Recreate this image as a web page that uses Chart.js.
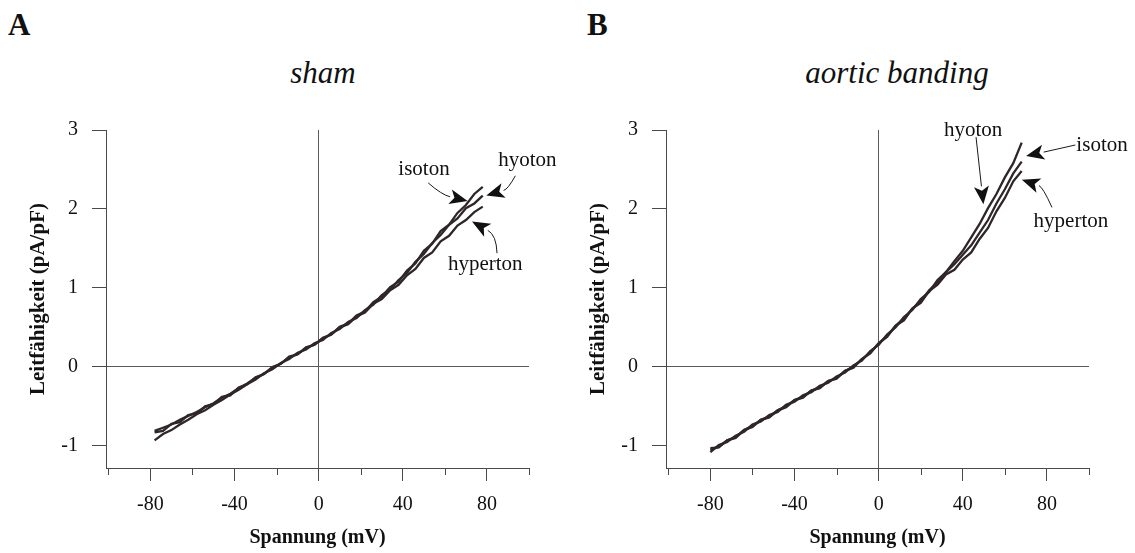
<!DOCTYPE html>
<html>
<head>
<meta charset="utf-8">
<script src="https://cdn.jsdelivr.net/npm/chart.js@4.4.1/dist/chart.umd.min.js"></script>
<style>
  html, body { margin: 0; padding: 0; background: #fff; }
  #wrap { position: relative; width: 1135px; height: 553px; overflow: hidden; background: #fff; }
  canvas { position: absolute; top: 0; }
  .lbl { position: absolute; font-family: 'Liberation Serif', 'Times New Roman', serif; color: #111; line-height: 1; white-space: nowrap; }
  .panel { font-weight: bold; font-size: 31px; }
  .ttl { font-style: italic; font-size: 31px; text-align: center; width: 300px; }
</style>
</head>
<body>
<div id="wrap">
  <div class="lbl panel" style="left:8px; top:9px;">A</div>
  <div class="lbl panel" style="left:587px; top:9px;">B</div>
  <div class="lbl ttl" style="left:173px; top:57px;">sham</div>
  <div class="lbl ttl" style="left:747px; top:57px;">aortic banding</div>
  <canvas id="cA" width="560" height="553" style="left:0px;"></canvas>
  <canvas id="cB" width="575" height="553" style="left:560px;"></canvas>
</div>
<script>
// ---------- data ----------
const voltsA = [-78,-74,-70,-66,-62,-58,-54,-50,-46,-42,-38,-34,-30,-26,-22,-18,-14,-10,-6,-2,2,6,10,14,18,22,26,30,34,38,42,46,50,54,58,62,66,70,74,78];
const isotonA = [-0.83,-0.81,-0.72,-0.70,-0.61,-0.59,-0.50,-0.47,-0.38,-0.36,-0.26,-0.22,-0.13,-0.09,0.00,0.04,0.13,0.16,0.25,0.28,0.37,0.41,0.51,0.55,0.65,0.70,0.82,0.89,1.01,1.08,1.22,1.31,1.47,1.56,1.72,1.80,1.95,2.05,2.19,2.28];
const hyotonA = [-0.93,-0.85,-0.80,-0.73,-0.67,-0.60,-0.55,-0.48,-0.42,-0.35,-0.29,-0.22,-0.16,-0.08,-0.03,0.05,0.10,0.18,0.22,0.30,0.34,0.43,0.48,0.57,0.62,0.72,0.79,0.91,0.98,1.10,1.19,1.33,1.43,1.57,1.67,1.80,1.88,2.01,2.07,2.17];
const hypertonA = [-0.81,-0.77,-0.73,-0.67,-0.62,-0.57,-0.51,-0.46,-0.39,-0.34,-0.27,-0.21,-0.14,-0.09,-0.01,0.04,0.12,0.16,0.24,0.28,0.36,0.41,0.50,0.54,0.64,0.69,0.80,0.86,0.97,1.04,1.16,1.24,1.38,1.45,1.59,1.66,1.79,1.86,1.96,2.03];

const voltsB = [-80,-76,-72,-68,-64,-60,-56,-52,-48,-44,-40,-36,-32,-28,-24,-20,-16,-12,-8,-4,0,4,8,12,16,20,24,28,32,36,40,44,48,52,56,60,64,68];
const isotonB = [-1.05,-1.01,-0.93,-0.89,-0.80,-0.75,-0.67,-0.63,-0.55,-0.50,-0.42,-0.38,-0.30,-0.26,-0.18,-0.14,-0.05,0.00,0.10,0.18,0.30,0.39,0.52,0.61,0.74,0.83,0.97,1.07,1.20,1.30,1.42,1.54,1.70,1.86,2.07,2.25,2.45,2.60];
const hyotonB = [-1.08,-0.99,-0.95,-0.87,-0.82,-0.73,-0.69,-0.61,-0.57,-0.48,-0.44,-0.36,-0.32,-0.24,-0.20,-0.12,-0.07,0.02,0.08,0.20,0.28,0.41,0.50,0.63,0.72,0.86,0.95,1.10,1.20,1.34,1.47,1.64,1.81,2.01,2.19,2.40,2.58,2.84];
const hypertonB = [-1.03,-1.02,-0.93,-0.90,-0.80,-0.76,-0.67,-0.64,-0.55,-0.51,-0.42,-0.39,-0.30,-0.27,-0.18,-0.15,-0.05,-0.01,0.10,0.17,0.30,0.38,0.52,0.59,0.74,0.81,0.96,1.04,1.17,1.23,1.36,1.45,1.62,1.76,1.97,2.14,2.35,2.48];

const xTickValues = [-100,-80,-60,-40,-20,0,20,40,60,80,100];
const xTickLabels = ['','-80','','-40','','0','','40','','80',''];
const yTickValues = [-1,0,1,2,3];
const yTickLabels = ['-1','0','1','2','3'];

const xTitle = 'Spannung (mV)';
const yTitle = 'Leitfähigkeit (pA/pF)';

// annotation labels (text at tx,ty; arrow from -> (ctrl) -> to), in data units
const notesA = [
  {text:'isoton',   tx:50.1, ty:2.50, from:[52.1,2.33], ctrl:[58.5,2.18], to:[70.8,2.10]},
  {text:'hyoton',   tx:99.2, ty:2.62, from:[93.5,2.42], ctrl:[90.0,2.25], to:[79.7,2.17]},
  {text:'hyperton', tx:79.2, ty:1.30, from:[84.8,1.44], ctrl:[84.5,1.67], to:[72.9,1.84]}
];
const notesB = [
  {text:'hyoton',   tx:44.9, ty:2.99, from:[46.3,2.91], ctrl:null,        to:[49.8,2.06]},
  {text:'isoton',   tx:106.2, ty:2.81, from:[93.5,2.81], ctrl:null,       to:[70.1,2.67]},
  {text:'hyperton', tx:91.4, ty:1.84, from:[82.4,2.02], ctrl:[78.0,2.28], to:[68.1,2.37]}
];

// ---------- drawing ----------
const FONT = "'Liberation Serif', 'Times New Roman', serif";
const INK = '#2f2629';
const AXIS = '#4a4a4a';

function pts(xs, ys) { return xs.map((x, i) => ({x: x, y: ys[i]})); }

function makeNotesPlugin(notes) {
  return {
    id: 'notes',
    afterDatasetsDraw(chart) {
      const ctx = chart.ctx, sx = chart.scales.x, sy = chart.scales.y;
      const P = (p) => [sx.getPixelForValue(p[0]), sy.getPixelForValue(p[1])];
      ctx.save();
      notes.forEach(n => {
        ctx.font = '21px ' + FONT;
        ctx.fillStyle = '#111';
        ctx.textAlign = 'center';
        ctx.textBaseline = 'middle';
        ctx.fillText(n.text, sx.getPixelForValue(n.tx), sy.getPixelForValue(n.ty));
        const a = P(n.from), b = P(n.to);
        const c = n.ctrl ? P(n.ctrl) : null;
        const ref = c || a;
        const ang = Math.atan2(b[1] - ref[1], b[0] - ref[0]);
        const L = 18, W = 7.5;
        const base = [b[0] - L * Math.cos(ang), b[1] - L * Math.sin(ang)];
        ctx.strokeStyle = '#1a1a1a';
        ctx.lineWidth = 1;
        ctx.beginPath();
        ctx.moveTo(a[0], a[1]);
        if (c) ctx.quadraticCurveTo(c[0], c[1], base[0], base[1]);
        else ctx.lineTo(base[0], base[1]);
        ctx.stroke();
        ctx.fillStyle = '#111';
        ctx.beginPath();
        ctx.moveTo(b[0], b[1]);
        ctx.lineTo(base[0] + W * Math.sin(ang), base[1] - W * Math.cos(ang));
        ctx.lineTo(base[0] + 0.25 * L * Math.cos(ang), base[1] + 0.25 * L * Math.sin(ang));
        ctx.lineTo(base[0] - W * Math.sin(ang), base[1] + W * Math.cos(ang));
        ctx.closePath();
        ctx.fill();
      });
      ctx.restore();
    }
  };
}

const minorTicks = {
  id: 'minorTicks',
  afterDraw(chart) {
    const ctx = chart.ctx, sx = chart.scales.x;
    ctx.save();
    ctx.strokeStyle = AXIS;
    ctx.lineWidth = 1;
    xTickValues.forEach((v, i) => {
      if (!xTickLabels[i]) {
        const px = Math.round(sx.getPixelForValue(v)) + 0.5;
        ctx.beginPath();
        ctx.moveTo(px, sx.top);
        ctx.lineTo(px, sx.top + 7);
        ctx.stroke();
      }
    });
    ctx.restore();
  }
};

function makeChart(id, volts, iso, hyo, hyper, notes, xmin, padRight) {
  const ds = (label, ys) => ({
    label: label, data: pts(volts, ys), borderColor: INK, borderWidth: 2.3,
    pointRadius: 0, tension: 0, fill: false, borderJoinStyle: 'miter'
  });
  return new Chart(document.getElementById(id), {
    type: 'line',
    data: { datasets: [ds('isoton', iso), ds('hyoton', hyo), ds('hyperton', hyper)] },
    options: {
      responsive: false,
      animation: false,
      devicePixelRatio: 1,
      layout: { padding: { top: 130, right: padRight, bottom: 0, left: 0 } },
      plugins: { legend: { display: false }, tooltip: { enabled: false }, title: { display: false } },
      scales: {
        x: {
          type: 'linear', min: xmin, max: 100,
          afterBuildTicks: (s) => { s.ticks = xTickValues.map(v => ({value: v})); },
          afterFit: (s) => { s.height = 85; },
          ticks: {
            autoSkip: false, maxRotation: 0, padding: 12, color: '#111',
            font: { family: FONT, size: 20 },
            callback: (v, i) => xTickLabels[i]
          },
          grid: {
            drawOnChartArea: true, drawTicks: true, tickLength: 13,
            color: (c) => (c.tick && c.tick.value === 0) ? '#5a5a5a' : 'rgba(0,0,0,0)',
            tickColor: (c) => (c.tick && xTickLabels[c.index]) ? AXIS : 'rgba(0,0,0,0)'
          },
          border: { display: true, color: AXIS, width: 1 },
          title: { display: true, text: xTitle, color: '#111', font: { family: FONT, size: 20, weight: 'bold' }, padding: { top: 0, bottom: 3 } }
        },
        y: {
          type: 'linear', min: -1.28, max: 3,
          afterBuildTicks: (s) => { s.ticks = yTickValues.map(v => ({value: v})); },
          afterFit: (s) => { s.width = 106; },
          ticks: {
            autoSkip: false, padding: 14, color: '#111',
            font: { family: FONT, size: 20 },
            callback: (v, i) => yTickLabels[i]
          },
          grid: {
            drawOnChartArea: true, drawTicks: true, tickLength: 14,
            color: (c) => (c.tick && c.tick.value === 0) ? '#5a5a5a' : 'rgba(0,0,0,0)',
            tickColor: AXIS
          },
          border: { display: true, color: AXIS, width: 1 },
          title: { display: true, text: yTitle, color: '#111', font: { family: FONT, size: 21, weight: 'bold' }, padding: { top: 26, bottom: 0 } }
        }
      }
    },
    plugins: [minorTicks, makeNotesPlugin(notes)]
  });
}

makeChart('cA', voltsA, isotonA, hyotonA, hypertonA, notesA, -101.1, 31);
makeChart('cB', voltsB, isotonB, hyotonB, hypertonB, notesB, -101.1, 46);
</script>
</body>
</html>
